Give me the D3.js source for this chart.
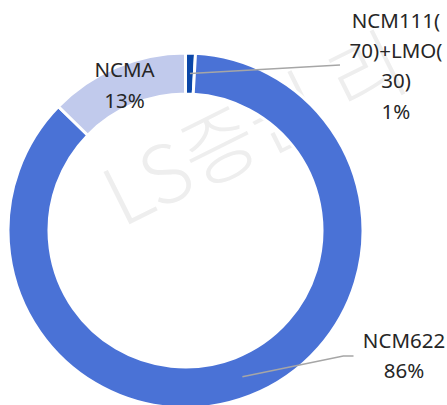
<!DOCTYPE html>
<html>
<head>
<meta charset="utf-8">
<script src="https://cdn.jsdelivr.net/npm/d3@7"></script>
<style>
  html, body { margin: 0; padding: 0; background: #fff; }
  svg { display: block; }
</style>
</head>
<body>
<svg id="chart" width="447" height="405"></svg>
<script>
// ---- data ----
const categories = ["NCM111(70)+LMO(30)", "NCM622", "NCMA"];
const values = [0.9, 86.4, 12.7];
const labelLines = [["NCM111(", "70)+LMO(", "30)"], ["NCM622"], ["NCMA"]];
const colors = ["#0b47a8", "#4a72d6", "#c1caec"];
const watermarkText = "LS증권 리";

// ---- layout ----
const W = 447, H = 405;
const cx = 185.5, cy = 230.5;
const outerR = 177.5, innerR = 136.5;
const lineH = 30.4;
const fontFamily = "'Noto Sans', 'Noto Sans CJK KR', sans-serif";

const svg = d3.select("#chart");

// watermark (beneath the ring)
svg.append("text")
  .attr("transform", "translate(122,228) rotate(-26.5)")
  .attr("font-family", "'Noto Sans CJK KR', 'Noto Sans', sans-serif")
  .attr("font-size", 80)
  .attr("font-weight", 300)
  .attr("fill", "#eeeeee")
  .text(watermarkText);

const total = d3.sum(values);
const data = categories.map((c, i) => ({ name: c, value: values[i], lines: labelLines[i], color: colors[i] }));

const pie = d3.pie().value(d => d.value).sort(null).startAngle(0).endAngle(2 * Math.PI);
const arcs = pie(data);
const arc = d3.arc().innerRadius(innerR).outerRadius(outerR);

const g = svg.append("g").attr("transform", `translate(${cx},${cy})`);

g.selectAll("path.slice")
  .data(arcs)
  .join("path")
  .attr("class", "slice")
  .attr("d", arc)
  .attr("fill", d => d.data.color)
  .attr("stroke", "#fff")
  .attr("stroke-width", 3)
  .attr("stroke-linejoin", "miter");

// label layout (positions only)
const labelPos = {
  "NCM111(70)+LMO(30)": { x: 396, y0: 27.5, leaderEnd: [[340, 65]] },
  "NCM622": { x: 404, y0: 347.5, leaderEnd: [[343.3, 356], [353.5, 356]] },
  "NCMA": { x: null, y0: null, leaderEnd: null }
};

const fmt = v => Math.round(v / total * 100) + "%";

arcs.forEach(a => {
  const [mx, my] = arc.centroid(a);
  const pos = labelPos[a.data.name];
  const allLines = a.data.lines.concat([fmt(a.data.value)]);
  let x, y0;
  if (pos.x === null) {
    x = cx + mx;
    y0 = cy + my - 8.5;
  } else {
    x = pos.x; y0 = pos.y0;
  }
  if (pos.leaderEnd) {
    const pts = [[cx + mx, cy + my]].concat(pos.leaderEnd);
    svg.append("path")
      .attr("d", d3.line()(pts))
      .attr("fill", "none")
      .attr("stroke", "#a6a6a6")
      .attr("stroke-width", 1.5);
  }
  const t = svg.append("text")
    .attr("font-family", fontFamily)
    .attr("font-size", 20.5)
    .attr("fill", "#262626")
    .attr("text-anchor", "middle");
  allLines.forEach((ln, i) => {
    t.append("tspan").attr("x", x).attr("y", y0 + i * lineH).text(ln);
  });
});
</script>
</body>
</html>
